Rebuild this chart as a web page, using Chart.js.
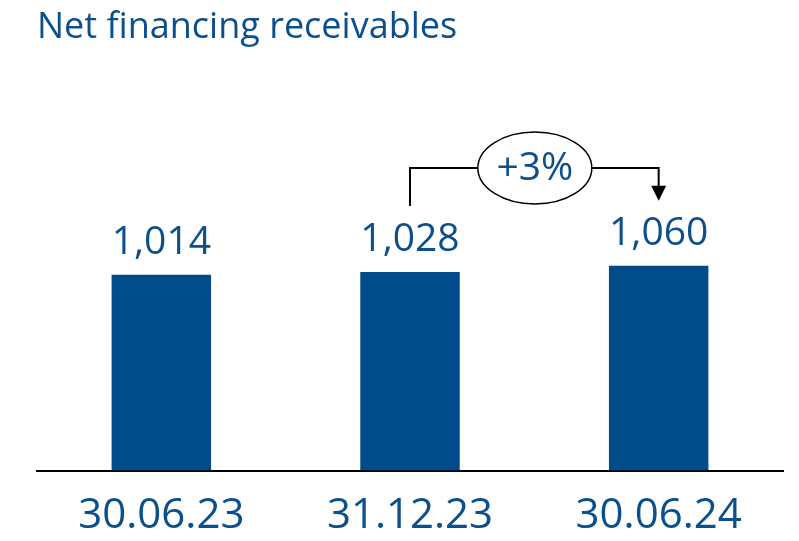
<!DOCTYPE html>
<html>
<head>
<meta charset="utf-8">
<script src="https://cdn.jsdelivr.net/npm/chart.js@4/dist/chart.umd.min.js"></script>
<style>
html,body{margin:0;padding:0;background:#fff;}
#wrap{width:799px;height:541px;position:relative;}
</style>
</head>
<body>
<div id="wrap"><canvas id="c"></canvas></div>
<script>
const categories = ['30.06.23', '31.12.23', '30.06.24'];
const values = [1014, 1028, 1060];
const valueLabels = ['1,014', '1,028', '1,060'];
const growthLabel = '+3%';
const titleText = 'Net financing receivables';

const TEXT = '#0b4f8c';
const BAR = '#004b89';
const FONT = "'Open Sans', 'Noto Sans', sans-serif";

const annot = {
  id: 'annot',
  afterDatasetsDraw(chart) {
    const ctx = chart.ctx;
    const meta = chart.getDatasetMeta(0);
    ctx.save();
    // value labels
    ctx.fillStyle = TEXT;
    ctx.font = "39px " + FONT;
    ctx.textAlign = 'center';
    ctx.textBaseline = 'middle';
    meta.data.forEach((el, i) => {
      ctx.fillText(valueLabels[i], el.x, el.y - 32);
    });
    // growth bracket from bar 2 to bar 3
    const a = meta.data[1], b = meta.data[2];
    const yTop = 168;
    const yA = a.y - 66;
    const yArrowTip = b.y - 65;
    ctx.strokeStyle = '#000';
    ctx.lineWidth = 2;
    ctx.beginPath();
    ctx.moveTo(a.x, yA);
    ctx.lineTo(a.x, yTop);
    ctx.lineTo(b.x, yTop);
    ctx.lineTo(b.x, yArrowTip - 14);
    ctx.stroke();
    ctx.fillStyle = '#000';
    ctx.beginPath();
    ctx.moveTo(b.x - 7.5, yArrowTip - 15);
    ctx.lineTo(b.x + 7.5, yArrowTip - 15);
    ctx.lineTo(b.x, yArrowTip);
    ctx.closePath();
    ctx.fill();
    // ellipse
    const cx = (a.x + b.x) / 2 + 0.5;
    ctx.beginPath();
    ctx.ellipse(cx, yTop, 57, 36, 0, 0, Math.PI * 2);
    ctx.fillStyle = '#fff';
    ctx.fill();
    ctx.lineWidth = 1.5;
    ctx.stroke();
    ctx.fillStyle = TEXT;
    ctx.font = "39px " + FONT;
    ctx.fillText(growthLabel, cx, yTop + 1);
    ctx.restore();
  }
};

new Chart(document.getElementById('c'), {
  type: 'bar',
  data: {
    labels: categories,
    datasets: [{
      data: values,
      backgroundColor: BAR,
      borderWidth: 0,
      barPercentage: 0.8,
      categoryPercentage: 0.5
    }]
  },
  options: {
    responsive: true,
    maintainAspectRatio: false,
    animation: false,
    layout: { padding: { left: 37, right: 16, top: 0, bottom: -20 } },
    plugins: {
      legend: { display: false },
      tooltip: { enabled: false },
      title: {
        display: true,
        text: titleText,
        align: 'start',
        color: TEXT,
        font: { family: FONT, size: 36, weight: 'normal' },
        padding: { top: 6, bottom: 35 }
      }
    },
    scales: {
      x: {
        grid: { display: true, drawOnChartArea: false, drawTicks: false, color: 'rgba(0,0,0,0)' },
        border: { display: true, color: '#000', width: 2 },
        ticks: { color: TEXT, font: { family: FONT, size: 42 }, padding: 20 }
      },
      y: {
        display: false,
        min: 0,
        max: 2000
      }
    }
  },
  plugins: [annot]
});
</script>
</body>
</html>
